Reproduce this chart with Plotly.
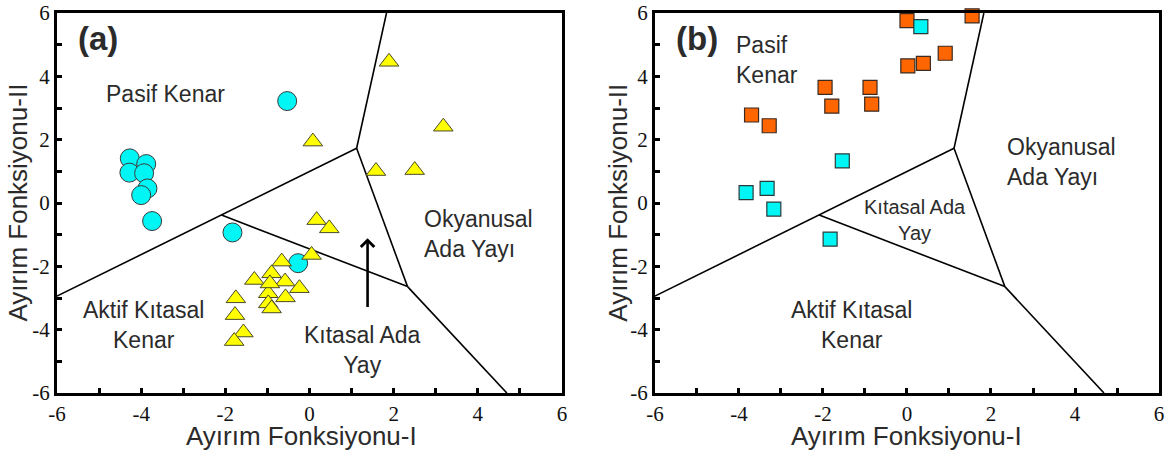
import plotly.graph_objects as go

# --- Panel (a): discriminant scores ---
a_circle_x = [-0.53, -4.27, -3.88, -4.28, -3.93, -3.85, -4.00, -3.74, -1.83, -0.27]
a_circle_y = [3.22, 1.41, 1.23, 0.96, 0.94, 0.46, 0.25, -0.57, -0.93, -1.90]

a_tri_x = [1.89, 3.18, 0.08, 1.58, 2.50, 0.17, 0.47, 0.05, -0.66, -1.31, -0.90, -0.58,
           -0.24, -0.98, -0.94, -0.57, -0.98, -0.90, -1.75, -1.77, -1.57, -1.79]
a_tri_y = [4.46, 2.41, 1.94, 1.01, 1.04, -0.54, -0.80, -1.64, -1.85, -2.43, -2.22, -2.48,
           -2.69, -2.85, -2.54, -2.98, -3.17, -3.33, -3.01, -3.54, -4.09, -4.36]

# --- Panel (b): discriminant scores ---
b_orange_x = [-1.95, -1.79, -3.70, -3.28, -0.88, -0.84, 0.00, 1.55, 0.91, 0.02, 0.39]
b_orange_y = [3.65, 3.06, 2.78, 2.44, 3.65, 3.12, 5.76, 5.91, 4.73, 4.33, 4.41]

b_cyan_x = [-1.54, -3.83, -3.33, -3.17, -1.83, 0.33]
b_cyan_y = [1.33, 0.33, 0.46, -0.19, -1.14, 5.57]

# Field boundaries of the tectonic-setting diagram (segments)
boundary_segments = [
    ([-6.00, 1.12], [-2.94, 1.73]),
    ([1.12, 1.83], [1.73, 6.00]),
    ([1.12, 2.33], [1.73, -2.64]),
    ([2.33, 4.69], [-2.64, -6.00]),
    ([-2.09, 2.33], [-0.38, -2.64]),
]

tick_vals = [-6, -4, -2, 0, 2, 4, 6]
x_title = "Ayırım Fonksiyonu-I"
y_title = "Ayırım Fonksiyonu-II"

TEXT = "#2b2b2b"
SANS = "Liberation Sans"
SERIF = "Liberation Serif"

fig = go.Figure()

for xa, ya in [("x", "y"), ("x2", "y2")]:
    for sx, sy in boundary_segments:
        fig.add_trace(go.Scatter(x=sx, y=sy, mode="lines", xaxis=xa, yaxis=ya,
                                 line=dict(color="black", width=1.6),
                                 hoverinfo="skip", showlegend=False))

fig.add_trace(go.Scatter(x=a_circle_x, y=a_circle_y, mode="markers", xaxis="x", yaxis="y",
                         marker=dict(symbol="circle", size=19, color="#00F5F5",
                                     line=dict(color="#3a3a3a", width=1)),
                         showlegend=False, cliponaxis=False))
fig.add_trace(go.Scatter(x=a_tri_x, y=a_tri_y, mode="markers", xaxis="x", yaxis="y",
                         marker=dict(symbol="triangle-up", size=17, color="#FFFF00",
                                     line=dict(color="#4a4a2a", width=1)),
                         showlegend=False, cliponaxis=False))
fig.add_trace(go.Scatter(x=b_orange_x, y=b_orange_y, mode="markers", xaxis="x2", yaxis="y2",
                         marker=dict(symbol="square", size=14, color="#FF6600",
                                     line=dict(color="#3a2a20", width=1.2)),
                         showlegend=False, cliponaxis=False))
fig.add_trace(go.Scatter(x=b_cyan_x, y=b_cyan_y, mode="markers", xaxis="x2", yaxis="y2",
                         marker=dict(symbol="square", size=14, color="#00F5F5",
                                     line=dict(color="#2a3a3a", width=1.2)),
                         showlegend=False, cliponaxis=False))

axis_common = dict(
    range=[-6, 6], tickmode="array", tickvals=tick_vals, ticktext=[str(v) for v in tick_vals],
    ticks="inside", ticklen=5, tickwidth=2.5, tickcolor="black",
    minor=dict(dtick=1, tick0=0, ticks="inside", ticklen=5, tickwidth=2.5, tickcolor="black"),
    showline=True, linewidth=3, linecolor="black", mirror=True,
    showgrid=False, zeroline=False, automargin=False,
)

y_dom = [0.1305, 0.9712]
fig.update_layout(
    width=1175, height=452,
    margin=dict(l=0, r=0, t=0, b=0),
    paper_bgcolor="white", plot_bgcolor="white",
    font=dict(family=SERIF, size=21, color="#111"),
    xaxis=dict(domain=[0.0485, 0.4783], anchor="y", **axis_common),
    yaxis=dict(domain=y_dom, anchor="x", **axis_common),
    xaxis2=dict(domain=[0.5574, 0.9864], anchor="y2", **axis_common),
    yaxis2=dict(domain=y_dom, anchor="x2", **axis_common),
)
fig.update_xaxes(tickfont=dict(family=SERIF, size=21, color="#111"))
fig.update_yaxes(tickfont=dict(family=SERIF, size=21, color="#111"))

ann = []
# Axis titles
for xc in [0.257, 0.7715]:
    ann.append(dict(xref="paper", yref="paper", x=xc, y=0.036, text=x_title, showarrow=False,
                    font=dict(family=SANS, size=26, color=TEXT), xanchor="center", yanchor="middle"))
for xc in [0.015, 0.5257]:
    ann.append(dict(xref="paper", yref="paper", x=xc, y=0.551, text=y_title, showarrow=False,
                    textangle=-90, font=dict(family=SANS, size=26, color=TEXT),
                    xanchor="center", yanchor="middle"))

# Panel letters
ann.append(dict(xref="x", yref="y", x=-5.55, y=5.2, text="<b>(a)</b>", showarrow=False,
                font=dict(family=SANS, size=33, color=TEXT), xanchor="left", yanchor="middle"))
ann.append(dict(xref="x2", yref="y2", x=-5.55, y=5.2, text="<b>(b)</b>", showarrow=False,
                font=dict(family=SANS, size=33, color=TEXT), xanchor="left", yanchor="middle"))

# Field names, panel (a)
lab = dict(family=SANS, size=23, color=TEXT)
ann += [
    dict(xref="x", yref="y", x=-3.41, y=3.45, text="Pasif Kenar", showarrow=False, font=lab),
    dict(xref="x", yref="y", x=2.67, y=-0.98, text="Okyanusal<br>Ada Yayı", showarrow=False,
         font=lab, xanchor="left", align="left"),
    dict(xref="x", yref="y", x=1.25, y=-4.64, text="Kıtasal Ada<br>Yay", showarrow=False, font=lab),
    dict(xref="x", yref="y", x=-3.94, y=-3.84, text="Aktif Kıtasal<br>Kenar", showarrow=False, font=lab),
]
# Field names, panel (b)
ann += [
    dict(xref="x2", yref="y2", x=-4.12, y=4.52, text="Pasif<br>Kenar", showarrow=False,
         font=lab, xanchor="left", align="left"),
    dict(xref="x2", yref="y2", x=2.33, y=1.30, text="Okyanusal<br>Ada Yayı", showarrow=False,
         font=lab, xanchor="left", align="left"),
    dict(xref="x2", yref="y2", x=0.20, y=-0.53, text="Kıtasal Ada<br>Yay", showarrow=False,
         font=dict(family=SANS, size=20, color=TEXT)),
    dict(xref="x2", yref="y2", x=-1.33, y=-3.85, text="Aktif Kıtasal<br>Kenar", showarrow=False, font=lab),
]

# Trend arrow in panel (a)
ann.append(dict(xref="x", yref="y", axref="x", ayref="y", x=1.38, y=-1.11, ax=1.38, ay=-3.33,
                text="", showarrow=True, arrowhead=4, arrowsize=1.0, arrowwidth=2.6,
                arrowcolor="black"))

fig.update_layout(annotations=ann)

fig.write_html("out.html")
